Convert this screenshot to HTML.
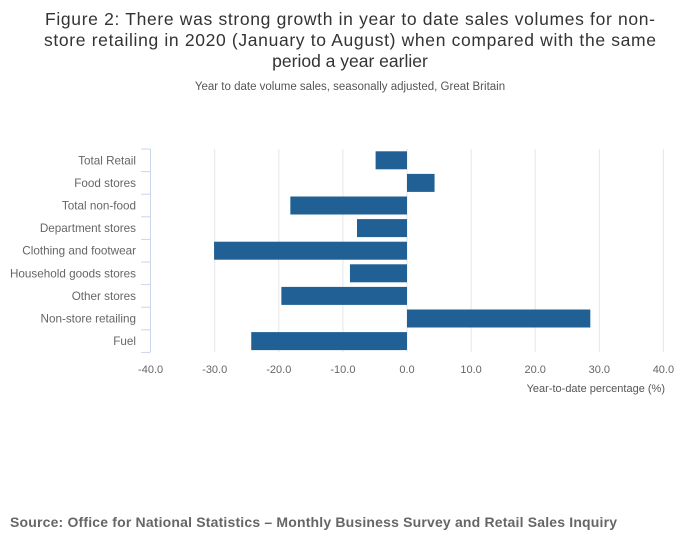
<!DOCTYPE html>
<html><head><meta charset="utf-8"><style>
body{margin:0;background:#fff;width:700px;height:549px;overflow:hidden;font-family:"Liberation Sans",sans-serif}
</style></head><body>
<svg width="700" height="549" xmlns="http://www.w3.org/2000/svg">
<text x="350" y="25" text-anchor="middle" font-size="17.5" fill="#333" textLength="610">Figure 2: There was strong growth in year to date sales volumes for non-</text>
<text x="350" y="46" text-anchor="middle" font-size="17.5" fill="#333" textLength="612">store retailing in 2020 (January to August) when compared with the same</text>
<text x="350" y="67" text-anchor="middle" font-size="17.5" fill="#333">period a year earlier</text>
<text x="350" y="90" text-anchor="middle" font-size="11.5" fill="#555">Year to date volume sales, seasonally adjusted, Great Britain</text>
<g id="grid"></g><g id="bars"></g><g id="axes"></g>
<text x="665" y="392" text-anchor="end" font-size="11" fill="#555">Year-to-date percentage (%)</text>
<text x="10" y="527" font-size="14" font-weight="bold" fill="#666" textLength="607">Source: Office for National Statistics – Monthly Business Survey  and Retail Sales Inquiry</text>
</svg>
<script>
const categories=["Total Retail","Food stores","Total non-food","Department stores","Clothing and footwear","Household goods stores","Other stores","Non-store retailing","Fuel"];
const values=[-4.9,4.3,-18.2,-7.8,-30.1,-8.9,-19.6,28.6,-24.3];
const ticks=[-40,-30,-20,-10,0,10,20,30,40];
const NS="http://www.w3.org/2000/svg";
const xs=v=>407+v*6.41, topY=149, band=22.6;
function mk(t,a,p){const e=document.createElementNS(NS,t);for(const k in a)e.setAttribute(k,a[k]);document.getElementById(p).appendChild(e);return e;}
ticks.forEach(t=>{
 if(t!==-40){const g=mk('line',{x1:xs(t),x2:xs(t),y1:149,y2:352,stroke:'#e6e6e6'},'grid');
 
 }
 const l=mk('text',{x:xs(t),y:373,'text-anchor':'middle','font-size':'11',fill:'#666'},'axes');
 l.textContent=t.toFixed(1);
 
 
});
const ax=mk('line',{x1:150.5,x2:150.5,y1:149,y2:352,stroke:'#ccd6eb'},'axes');


for(let i=0;i<=categories.length;i++){const tk=mk('line',{x1:141,x2:150.5,y1:topY+i*band,y2:topY+i*band,stroke:'#ccd6eb'},'axes');
 
 }
categories.forEach((c,i)=>{
 const cy=topY+(i+0.5)*band;
 const l=mk('text',{x:136,y:cy+4,'text-anchor':'end','font-size':'11.7',fill:'#666'},'axes');
 l.textContent=c;
 
 
 const v=values[i];
 const b=mk('rect',{x:Math.min(xs(0),xs(v)),y:cy-9,width:Math.abs(xs(v)-xs(0)),height:18,fill:'#206095'},'bars');
 
 
});
</script>
</body></html>
